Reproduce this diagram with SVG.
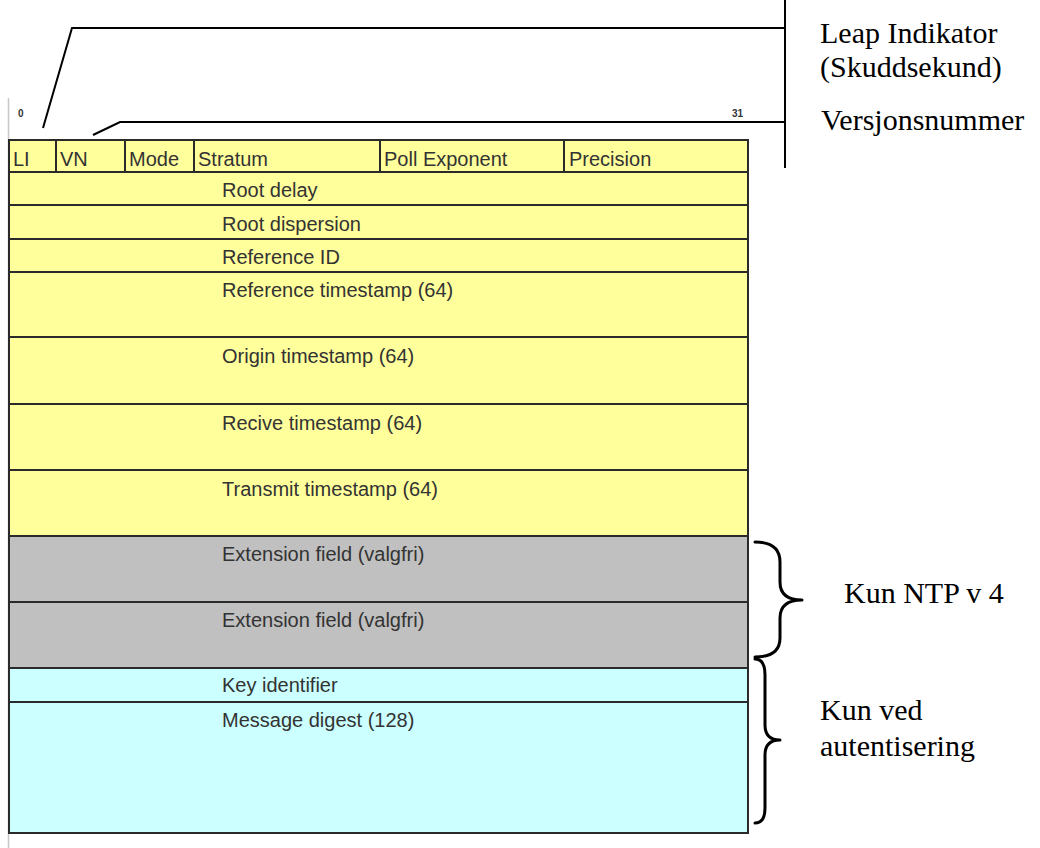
<svg xmlns="http://www.w3.org/2000/svg" width="1040" height="848" viewBox="0 0 1040 848">
<style>
.y{fill:#ffff9c;stroke:#2a2a2a;stroke-width:2}
.g{fill:#c0c0c0;stroke:#2a2a2a;stroke-width:2}
.c{fill:#ccffff;stroke:#2a2a2a;stroke-width:2}
.t{font-family:"Liberation Sans",Arial,sans-serif;font-size:20px;fill:#333}
.s{font-family:"Liberation Sans",Arial,sans-serif;font-size:10px;font-weight:bold;fill:#333}
.r{font-family:"Liberation Serif","Times New Roman",serif;font-size:30px;fill:#000}
.ln{fill:none;stroke:#000;stroke-width:2}
.br{fill:none;stroke:#000;stroke-width:3;stroke-linecap:round;stroke-linejoin:round}
</style>
<rect width="1040" height="848" fill="#fff"/>
<g id="ruler">
<line x1="8.5" y1="98" x2="8.5" y2="848" stroke="#c8c8c8" stroke-width="1.5"/>
<line x1="9" y1="373" x2="9" y2="403" stroke="#5b7fd6" stroke-width="2"/>
<text class="s" x="18" y="117">0</text>
<text class="s" x="732" y="117">31</text>
</g>
<g id="header">
<rect class="y" x="9" y="140" width="739" height="32"/>
<line x1="56" y1="140" x2="56" y2="172" stroke="#2a2a2a" stroke-width="2"/>
<line x1="125" y1="140" x2="125" y2="172" stroke="#2a2a2a" stroke-width="2"/>
<line x1="194" y1="140" x2="194" y2="172" stroke="#2a2a2a" stroke-width="2"/>
<line x1="380" y1="140" x2="380" y2="172" stroke="#2a2a2a" stroke-width="2"/>
<line x1="564" y1="140" x2="564" y2="172" stroke="#2a2a2a" stroke-width="2"/>
<text class="t" x="13" y="166">LI</text>
<text class="t" x="60" y="166">VN</text>
<text class="t" x="129" y="166">Mode</text>
<text class="t" x="198" y="166">Stratum</text>
<text class="t" x="384" y="166">Poll Exponent</text>
<text class="t" x="569" y="166">Precision</text>
</g>
<g id="root-delay"><rect class="y" x="9" y="172" width="739" height="33"/><text class="t" x="222" y="197">Root delay</text></g>
<g id="root-dispersion"><rect class="y" x="9" y="205" width="739" height="34"/><text class="t" x="222" y="231">Root dispersion</text></g>
<g id="reference-id"><rect class="y" x="9" y="239" width="739" height="33"/><text class="t" x="222" y="264">Reference ID</text></g>
<g id="reference-timestamp"><rect class="y" x="9" y="272" width="739" height="65"/><text class="t" x="222" y="297">Reference timestamp (64)</text></g>
<g id="origin-timestamp"><rect class="y" x="9" y="337" width="739" height="67"/><text class="t" x="222" y="363">Origin timestamp (64)</text></g>
<g id="recive-timestamp"><rect class="y" x="9" y="404" width="739" height="66"/><text class="t" x="222" y="430">Recive timestamp (64)</text></g>
<g id="transmit-timestamp"><rect class="y" x="9" y="470" width="739" height="66"/><text class="t" x="222" y="496">Transmit timestamp (64)</text></g>
<g id="extension-1"><rect class="g" x="9" y="536" width="739" height="66"/><text class="t" x="222" y="561">Extension field (valgfri)</text></g>
<g id="extension-2"><rect class="g" x="9" y="602" width="739" height="66"/><text class="t" x="222" y="627">Extension field (valgfri)</text></g>
<g id="key-identifier"><rect class="c" x="9" y="668" width="739" height="34"/><text class="t" x="222" y="692">Key identifier</text></g>
<g id="message-digest"><rect class="c" x="9" y="702" width="739" height="131"/><text class="t" x="222" y="727">Message digest (128)</text></g>
<g id="connectors">
<polyline class="ln" points="43,128 72,28 785,28"/>
<polyline class="ln" points="93,135 120,122 785,122"/>
<line class="ln" x1="785" y1="0" x2="785" y2="168"/>
<path class="br" d="M755,542 Q780,542 780,562 L780,582 Q780,600 802,600 Q780,600 780,618 L780,638 Q780,657 755,657"/>
<path class="br" d="M755,659 Q765,659 765,675 L765,725 Q765,740 780,740 Q765,740 765,755 L765,808 Q765,823 755,823"/>
</g>
<g id="labels">
<text class="r" x="820" y="43">Leap Indikator</text>
<text class="r" x="820" y="77">(Skuddsekund)</text>
<text class="r" x="821" y="130">Versjonsnummer</text>
<text class="r" x="844" y="603">Kun NTP v 4</text>
<text class="r" x="820" y="720">Kun ved</text>
<text class="r" x="820" y="756">autentisering</text>
</g>
</svg>
